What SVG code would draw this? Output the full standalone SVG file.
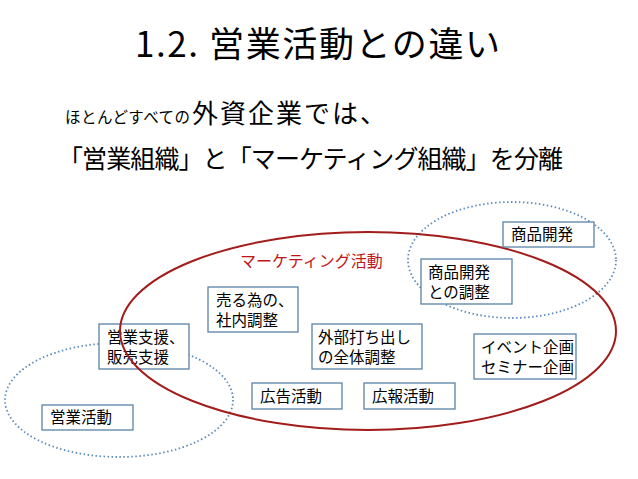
<svg xmlns="http://www.w3.org/2000/svg" width="638" height="479" viewBox="0 0 638 479">
<style>
text{font-family:"Noto Sans CJK JP","Noto Sans",sans-serif;fill:#000}
.box rect{fill:#fff;stroke:#5a82a6;stroke-width:1.3}
.box text{font-size:15.5px}
.dot{fill:none;stroke:#5b8bbd;stroke-width:1.8;stroke-dasharray:1.5 2.5}
</style>
<rect width="638" height="479" fill="#fff"/>
<text x="135" y="57" style="font-size:35px" textLength="365" lengthAdjust="spacing">1.2. 営業活動との違い</text>
<text x="65" y="123" style="font-size:15.5px" textLength="125" lengthAdjust="spacing">ほとんどすべての</text>
<text x="192" y="123" style="font-size:26px" textLength="194" lengthAdjust="spacing">外資企業では、</text>
<text x="58" y="168" style="font-size:25px" textLength="505" lengthAdjust="spacing">「営業組織」と「マーケティング組織」を分離</text>
<g id="ellipses">
<ellipse id="sales-area" class="dot" cx="119" cy="400" rx="114" ry="57"/>
<ellipse id="product-area" class="dot" cx="512" cy="260" rx="104" ry="58"/>
</g>
<g id="n-sales-support" class="box"><rect x="99" y="324" width="90" height="45"/><text x="107" y="343">営業支援、</text><text x="107" y="363">販売支援</text></g>
<g id="n-sales" class="box"><rect x="42" y="405" width="91" height="25"/><text x="50" y="423">営業活動</text></g>
<g id="marketing-area"><ellipse cx="368" cy="331" rx="248" ry="99" fill="none" stroke="#a31c1c" stroke-width="2"/><text x="240" y="267" style="font-size:16px;fill:#c0161a">マーケティング活動</text></g>
<g id="n-internal" class="box"><rect x="208" y="287" width="90" height="45"/><text x="216" y="306">売る為の、</text><text x="216" y="326">社内調整</text></g>
<g id="n-external" class="box"><rect x="312" y="324" width="110" height="45"/><text x="318" y="343">外部打ち出し</text><text x="318" y="363">の全体調整</text></g>
<g id="n-ad" class="box"><rect x="252" y="383" width="90" height="26"/><text x="260" y="402">広告活動</text></g>
<g id="n-pr" class="box"><rect x="364" y="383" width="91" height="26"/><text x="372" y="402">広報活動</text></g>
<g id="n-product-coord" class="box"><rect x="421" y="259" width="91" height="45"/><text x="428" y="278">商品開発</text><text x="428" y="298">との調整</text></g>
<g id="n-product" class="box"><rect x="503" y="222" width="91" height="25"/><text x="511" y="240">商品開発</text></g>
<g id="n-event" class="box"><rect x="474" y="334" width="102" height="45"/><text x="481" y="353">イベント企画</text><text x="481" y="373">セミナー企画</text></g>
</svg>
